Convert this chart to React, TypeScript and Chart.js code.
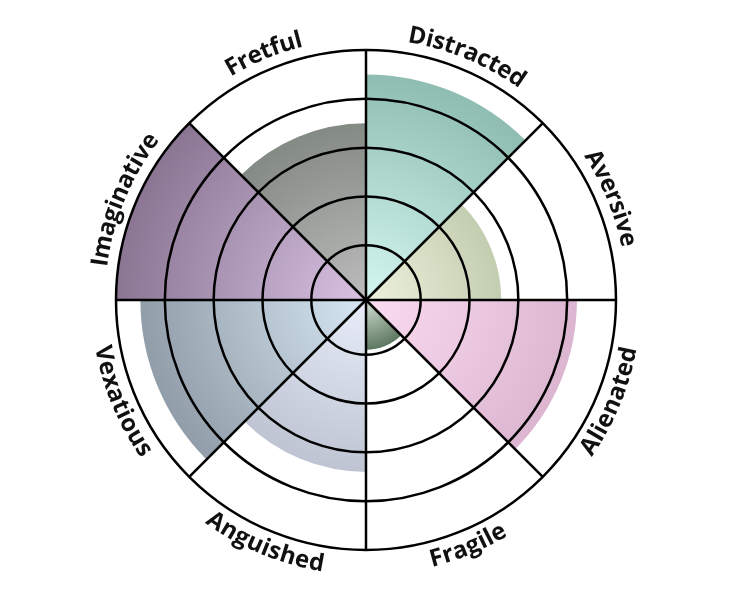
import React, { useEffect, useRef } from "react";
import { Chart, registerables } from "chart.js";

Chart.register(...registerables);

const LABELS = [
  "Distracted",
  "Aversive",
  "Alienated",
  "Fragile",
  "Anguished",
  "Vexatious",
  "Imaginative",
  "Fretful",
];
const VALUES = [4.5, 2.65, 4.2, 0.9, 3.4, 4.5, 5, 3.5];
const TICKS = [1, 2, 3, 4, 5];
const INNER_COLORS = [
  "#d4f7f1",
  "#eef1dd",
  "#fbdcf1",
  "#d6e2d6",
  "#e8edf9",
  "#d6e7f3",
  "#d9c2e3",
  "#bcbcbc",
];
const OUTER_COLORS = [
  "#8fbdb1",
  "#c3ceb1",
  "#dcb6d0",
  "#5c7760",
  "#bec4d2",
  "#919da8",
  "#8a7593",
  "#848a84",
];

const curvedLabels = {
  id: "curvedLabels",
  afterDraw(chart: any) {
    const scale = chart.scales.r;
    const ctx = chart.ctx;
    const xc = scale.xCenter;
    const yc = scale.yCenter;
    const R = scale.drawingArea + 18;
    const n = LABELS.length;
    ctx.save();
    ctx.font = "bold 24px 'Open Sans'";
    ctx.fillStyle = "#111";
    ctx.textAlign = "center";
    ctx.textBaseline = "middle";
    for (let i = 0; i < n; i++) {
      const mid = scale.getIndexAngle(i) - Math.PI / 2 + Math.PI / n;
      const text = LABELS[i];
      const chars = text.split("");
      const widths = chars.map((c) => ctx.measureText(c).width);
      const total = widths.reduce((a, b) => a + b, 0);
      const upper = Math.sin(mid) < 0;
      let acc = 0;
      for (let k = 0; k < chars.length; k++) {
        const off = (acc + widths[k] / 2 - total / 2) / R;
        const a = upper ? mid + off : mid - off;
        const x = xc + R * Math.cos(a);
        const y = yc + R * Math.sin(a);
        ctx.save();
        ctx.translate(x, y);
        ctx.rotate(upper ? a + Math.PI / 2 : a - Math.PI / 2);
        ctx.fillText(chars[k], 0, 0);
        ctx.restore();
        acc += widths[k];
      }
    }
    ctx.restore();
  },
};

export default function App() {
  const ref = useRef<HTMLCanvasElement | null>(null);
  useEffect(() => {
    if (!ref.current) return;
    const chart = new Chart(ref.current, {
      type: "polarArea",
      data: {
        labels: LABELS,
        datasets: [
          {
            data: VALUES,
            borderWidth: 0,
            backgroundColor: (c: any) => {
              const chart = c.chart;
              const scale = chart.scales && chart.scales.r;
              const i = c.dataIndex;
              if (!scale || scale.xCenter === undefined || i === undefined) {
                return OUTER_COLORS[i || 0];
              }
              const r = Math.max(1, scale.getDistanceFromCenterForValue(VALUES[i]));
              const g = chart.ctx.createRadialGradient(
                scale.xCenter,
                scale.yCenter,
                0,
                scale.xCenter,
                scale.yCenter,
                r
              );
              g.addColorStop(0, INNER_COLORS[i]);
              g.addColorStop(1, OUTER_COLORS[i]);
              return g;
            },
          },
        ],
      },
      options: {
        responsive: true,
        maintainAspectRatio: false,
        animation: false,
        layout: { padding: { left: 116, right: 116, top: 50, bottom: 50 } },
        plugins: {
          legend: { display: false },
          tooltip: { enabled: false },
        },
        scales: {
          r: {
            min: -0.12,
            max: 5,
            z: 1,
            afterBuildTicks: (s: any) => {
              s.ticks = TICKS.map((v) => ({ value: v }));
            },
            ticks: { display: false },
            grid: { color: "#000", lineWidth: 2.5, circular: true, z: 1 },
            angleLines: { display: true, color: "#000", lineWidth: 2.5 },
            pointLabels: { display: false },
          },
        },
      } as any,
      plugins: [curvedLabels],
    });
    return () => chart.destroy();
  }, []);
  return (
    <div
      style={{
        position: "absolute",
        left: 0,
        top: 0,
        width: 732,
        height: 600,
        background: "#fff",
      }}
    >
      <canvas ref={ref} style={{ display: "block" }} />
    </div>
  );
}
